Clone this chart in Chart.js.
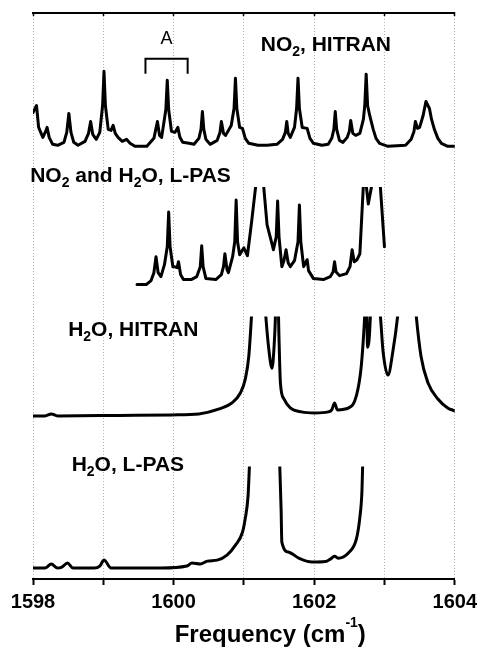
<!DOCTYPE html>
<html><head><meta charset="utf-8">
<script src="https://cdn.jsdelivr.net/npm/chart.js@4.4.0/dist/chart.umd.min.js"></script>
<style>html,body{margin:0;padding:0;background:#fff}canvas{display:block}</style>
</head><body>
<canvas id="c" width="482" height="656"></canvas>
<script>
// ---------------- DATA ----------------
const tickValues = [1598, 1599, 1600, 1601, 1602, 1603, 1604];
const axisTitle = 'Frequency (cm⁻¹)';

// NO2, HITRAN (arbitrary units)
const no2HitranFreq = [1598.00,1598.05,1598.08,1598.14,1598.18,1598.20,1598.23,1598.28,1598.35,1598.44,
  1598.48,1598.51,1598.54,1598.58,1598.64,1598.74,1598.79,1598.82,1598.85,1598.90,
  1598.95,1598.99,1599.01,1599.03,1599.07,1599.11,1599.14,1599.17,1599.21,1599.27,
  1599.33,1599.38,1599.45,1599.62,1599.72,1599.77,1599.80,1599.83,1599.89,1599.91,
  1599.93,1599.97,1600.02,1600.06,1600.09,1600.13,1600.22,1600.29,1600.36,1600.39,
  1600.41,1600.43,1600.46,1600.52,1600.62,1600.66,1600.68,1600.71,1600.74,1600.82,
  1600.86,1600.88,1600.90,1600.94,1600.98,1601.02,1601.07,1601.20,1601.33,1601.47,
  1601.55,1601.59,1601.61,1601.63,1601.66,1601.72,1601.75,1601.77,1601.79,1601.83,
  1601.90,1601.94,1601.99,1602.11,1602.20,1602.25,1602.28,1602.30,1602.32,1602.36,
  1602.41,1602.47,1602.50,1602.52,1602.55,1602.59,1602.65,1602.70,1602.72,1602.74,
  1602.76,1602.79,1602.84,1602.88,1602.93,1603.05,1603.30,1603.38,1603.42,1603.44,
  1603.47,1603.50,1603.55,1603.59,1603.64,1603.67,1603.71,1603.76,1603.81,1603.90,
  1604.00];
const no2HitranInt = [3.5,4.2,2.0,1.0,1.6,2.0,1.0,0.3,0.2,0.5,
  1.5,3.4,1.5,0.5,0.2,0.6,1.4,2.6,1.3,0.8,
  1.5,4.2,7.65,4.2,1.8,1.7,2.2,1.4,1.0,0.6,
  0.8,0.4,0.1,0.1,0.9,2.6,1.2,1.0,3.8,6.75,
  3.8,1.6,1.5,2.0,1.0,0.5,0.4,0.3,0.9,1.8,
  3.6,1.8,0.8,0.3,0.7,1.5,2.6,1.4,1.2,2.2,
  3.9,6.95,3.9,2.0,1.9,0.9,0.4,0.2,0.2,0.3,
  0.8,1.5,2.6,1.4,1.0,2.0,3.9,6.95,3.9,2.0,
  1.9,0.9,0.4,0.2,0.3,0.9,1.8,3.6,1.8,0.7,
  0.5,1.0,1.6,2.7,1.4,1.2,1.4,2.8,4.2,7.35,
  4.2,3.2,1.8,0.9,0.4,0.1,0.2,0.8,1.6,2.6,
  1.9,2.0,3.2,4.6,3.9,2.8,1.8,0.9,0.4,0.1,
  0.1];

// NO2 and H2O, L-PAS
const mixLpasFreq = [1599.48,1599.61,1599.68,1599.72,1599.75,1599.78,1599.82,1599.87,1599.91,1599.93,
  1599.95,1599.99,1600.01,1600.05,1600.07,1600.10,1600.14,1600.25,1600.33,1600.38,
  1600.40,1600.42,1600.46,1600.60,1600.68,1600.71,1600.73,1600.76,1600.78,1600.84,
  1600.87,1600.89,1600.91,1600.94,1601.00,1601.05,1601.11,1601.17,1601.22,1601.28,
  1601.33,1601.40,1601.42,1601.46,1601.48,1601.50,1601.54,1601.57,1601.60,1601.63,
  1601.66,1601.72,1601.77,1601.79,1601.81,1601.85,1601.90,1601.92,1601.99,1602.13,
  1602.23,1602.27,1602.29,1602.31,1602.36,1602.46,1602.51,1602.54,1602.57,1602.61,
  1602.65,1602.70,1602.72,1602.77,1602.82,1602.87,1602.94,1603.00];
const mixLpasInt = [0.2,0.2,0.6,1.4,3.0,1.4,1.0,2.2,4.0,7.5,
  4.0,2.0,2.0,1.9,2.5,1.2,0.7,0.7,1.0,2.0,
  4.1,2.0,0.8,0.7,1.2,2.0,3.3,1.7,1.4,3.0,
  4.5,8.7,4.5,3.2,3.9,3.1,6.5,10.2,18.5,10.2,
  6.2,4.3,3.7,5.0,8.6,5.0,2.0,2.6,3.7,2.4,
  2.0,2.6,4.5,8.2,4.5,2.0,2.7,1.6,0.8,0.7,
  1.0,1.5,2.5,1.5,1.1,1.3,2.0,3.7,2.5,2.7,
  3.3,10.2,11.5,8.3,10.2,14.5,10.2,4.0];

// H2O, HITRAN
const h2oHitranFreq = [1598.00,1598.17,1598.26,1598.35,1599.23,1599.98,1600.36,1600.65,1600.83,1600.95,
  1601.02,1601.07,1601.11,1601.20,1601.31,1601.35,1601.40,1601.43,1601.45,1601.47,
  1601.50,1601.52,1601.57,1601.66,1601.82,1602.01,1602.20,1602.25,1602.29,1602.33,
  1602.49,1602.60,1602.67,1602.72,1602.74,1602.76,1602.80,1602.82,1602.94,1602.98,
  1603.05,1603.12,1603.19,1603.32,1603.45,1603.52,1603.62,1603.76,1603.90,1604.00];
const h2oHitranInt = [0.1,0.1,0.3,0.1,0.15,0.2,0.3,0.8,1.4,2.4,
  3.8,6.1,10.3,21.6,10.3,7.1,4.9,7.1,10.3,16.6,
  7.8,3.4,1.8,0.9,0.5,0.4,0.5,0.7,1.4,0.7,
  0.9,2.1,5.1,10.3,13.6,7.0,10.3,16.6,10.3,6.6,
  4.2,6.6,10.3,21.6,10.3,6.1,3.4,1.8,0.9,0.6];

// H2O, L-PAS
const h2oLpasFreq = [1598.00,1598.17,1598.26,1598.35,1598.41,1598.49,1598.57,1598.87,1598.95,1599.01,
  1599.11,1599.82,1600.19,1600.26,1600.38,1600.48,1600.62,1600.76,1600.88,1600.98,
  1601.02,1601.06,1601.08,1601.11,1601.30,1601.47,1601.51,1601.53,1601.54,1601.64,
  1601.78,1601.97,1602.16,1602.23,1602.29,1602.34,1602.49,1602.60,1602.65,1602.68,
  1602.69,1602.71];
const h2oLpasInt = [0.1,0.1,0.5,0.1,0.2,0.6,0.1,0.1,0.3,0.9,
  0.1,0.1,0.3,0.6,0.5,0.8,0.9,1.4,2.4,3.7,
  5.1,7.4,10.5,14.9,18.9,14.9,10.5,5.9,2.7,1.7,
  1.1,0.7,0.75,1.0,1.3,1.1,1.65,3.0,5.2,7.9,
  10.5,14.9];

// Bracket "A" over the NO2 HITRAN trace
const bracketFreq = [1599.60, 1599.60, 1600.20, 1600.20];
const bracketInt = [7.4, 8.9, 8.9, 7.4];

// Panel texts
const labelTexts  = ['A', 'NO₂, HITRAN', 'NO₂ and H₂O, L-PAS', 'H₂O, HITRAN', 'H₂O, L-PAS'];
const labelPanels = ['p1', 'p1', 'p2', 'p3', 'p4'];
const labelFreqs  = [1599.90, 1601.24, 1597.96, 1598.50, 1598.55];
const labelValues = [10.35, 9.67, 10.5, 8.17, 9.9];

// ---------------- CHART ----------------
const FONT = '"Liberation Sans", Arial, Helvetica, sans-serif';
const pts = (xs, ys) => xs.map((x, i) => ({x, y: ys[i]}));

function trace(xs, ys, axis, smooth) {
  return {
    data: pts(xs, ys), yAxisID: axis, xAxisID: 'x',
    borderColor: '#000', borderWidth: 3, pointRadius: 0,
    borderJoinStyle: 'round', borderCapStyle: 'round',
    cubicInterpolationMode: smooth ? 'monotone' : 'default', tension: 0, fill: false
  };
}

function drawRuns(ctx, text, x, y, size, subSize, weight, align, mode) {
  const runs = [];
  for (const ch of text) {
    let kind = 0, c = ch;
    if (ch === '₂') { kind = 1; c = '2'; }
    else if (ch === '⁻') { kind = 2; c = '-'; }
    else if (ch === '¹') { kind = 2; c = '1'; }
    const last = runs[runs.length - 1];
    if (last && last.kind === kind) last.t += c; else runs.push({t: c, kind});
  }
  let total = 0;
  runs.forEach(r => {
    ctx.font = weight + ' ' + (r.kind ? subSize : size) + 'px ' + FONT;
    r.w = ctx.measureText(r.t).width; total += r.w;
  });
  let px = align === 'center' ? x - total / 2 : x;
  runs.forEach(r => {
    ctx.font = weight + ' ' + (r.kind ? subSize : size) + 'px ' + FONT;
    const dy = r.kind === 1 ? 5 : (r.kind === 2 ? -15 : 0);
    ctx.fillText(r.t, px, y + dy);
    px += r.w;
  });
}

const labelPlugin = {
  id: 'panelLabels',
  afterDatasetsDraw(chart) {
    const ctx = chart.ctx;
    const xs = chart.scales.x;
    ctx.save();
    ctx.fillStyle = '#000';
    ctx.textBaseline = 'alphabetic';
    ctx.textAlign = 'left';
    labelTexts.forEach((text, i) => {
      const ys = chart.scales[labelPanels[i]];
      const isA = text === 'A';
      drawRuns(ctx, text, xs.getPixelForValue(labelFreqs[i]), ys.getPixelForValue(labelValues[i]),
        isA ? 18 : 21, 14, isA ? 'normal' : 'bold', isA ? 'center' : 'left');
    });
    // axis title (with superscript)
    const a = chart.chartArea;
    drawRuns(ctx, axisTitle, a.left + (a.right - a.left) * 0.5625, a.bottom + 60, 24, 14, 'bold', 'center');
    ctx.restore();
  }
};

const panelAxis = (min, max, weight) => ({
  type: 'linear', display: false, position: 'left', stack: 'panels', stackWeight: weight,
  min, max
});

new Chart(document.getElementById('c'), {
  type: 'line',
  data: {
    datasets: [
      trace(no2HitranFreq, no2HitranInt, 'p1', false),
      trace(mixLpasFreq, mixLpasInt, 'p2', false),
      trace(h2oHitranFreq, h2oHitranInt, 'p3', true),
      trace(h2oLpasFreq, h2oLpasInt, 'p4', true),
      {
        data: pts(bracketFreq, bracketInt), yAxisID: 'p1', xAxisID: 'x',
        borderColor: '#000', borderWidth: 2, pointRadius: 0, borderJoinStyle: 'miter',
        tension: 0, fill: false
      }
    ]
  },
  options: {
    responsive: false, devicePixelRatio: 1, animation: false, events: [],
    layout: { padding: { left: 33, right: 25, top: 16, bottom: 34 } },
    plugins: { legend: { display: false }, tooltip: { enabled: false } },
    scales: {
      x: {
        type: 'linear', position: 'bottom', min: 1598, max: 1604,
        afterBuildTicks: s => { s.ticks = tickValues.map(v => ({value: v})); },
        ticks: {
          autoSkip: false, maxRotation: 0, color: '#000', padding: 5,
          font: { family: FONT, size: 20, weight: 'bold' },
          callback: v => (v % 2 === 0 ? String(v) : '')
        },
        grid: { color: '#b0b0b0', lineWidth: 1, drawTicks: true, tickLength: 6, tickColor: '#000', tickWidth: 2, tickBorderDash: [] },
        border: { display: true, color: '#000', width: 2, dash: [1, 2] },
        title: { display: false }
      },
      xTop: {
        type: 'linear', position: 'top', min: 1598, max: 1604,
        afterBuildTicks: s => { s.ticks = tickValues.map(v => ({value: v})); },
        ticks: { display: false },
        grid: { drawOnChartArea: false, drawTicks: true, tickLength: -3, tickColor: '#000', tickWidth: 1.5 },
        border: { display: true, color: '#000', width: 2 }
      },
      p4: panelAxis(-1.3, 10.3, 116),
      p3: panelAxis(-5.0, 10.1, 151),
      p2: panelAxis(-3.0, 10.0, 130),
      p1: panelAxis(-4.0, 13.2, 172)
    }
  },
  plugins: [labelPlugin]
});
</script>
</body></html>
